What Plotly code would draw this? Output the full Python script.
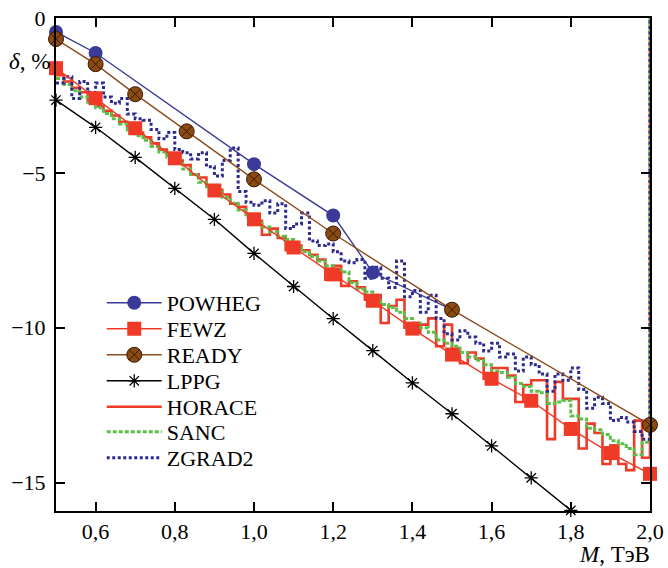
import plotly.graph_objects as go

# ---------------- data ----------------
powheg_m = [0.5, 0.6, 1.0, 1.2, 1.3, 1.5]
powheg_d = [-0.45, -1.13, -4.72, -6.38, -8.22, -9.42]

fewz_m = [0.5, 0.6, 0.7, 0.8, 0.9, 1.0, 1.1, 1.2, 1.3, 1.4, 1.5, 1.6, 1.7, 1.8, 1.9, 2.0]
fewz_d = [-1.62, -2.59, -3.56, -4.53, -5.57, -6.50, -7.41, -8.28, -9.13, -10.03,
          -10.87, -11.65, -12.36, -13.27, -14.05, -14.72]

ready_m = [0.5, 0.6, 0.7, 0.83, 1.0, 1.2, 1.5, 2.0]
ready_d = [-0.68, -1.49, -2.46, -3.66, -5.21, -6.96, -9.42, -13.14]

lppg_m = [0.5, 0.6, 0.7, 0.8, 0.9, 1.0, 1.1, 1.2, 1.3, 1.4, 1.5, 1.6, 1.7, 1.8]
lppg_d = [-2.65, -3.53, -4.50, -5.50, -6.50, -7.60, -8.67, -9.71, -10.74, -11.78,
          -12.78, -13.82, -14.85, -15.90]

# histogram bin edges (0.02 TeV bins from 0.50 to 2.00)
bin_edges = [round(0.50 + 0.02 * i, 2) for i in range(76)]

horace_d = [-1.85, -2.05, -2.25, -2.40, -2.65, -2.85, -3.00, -3.15, -3.35, -3.55,
            -3.70, -3.85, -4.05, -4.25, -4.40, -4.60, -4.75, -5.05, -5.15, -5.40,
            -5.55, -5.70, -6.00, -6.10, -6.35, -6.55, -7.00, -6.80, -7.10, -7.50,
            -7.35, -7.50, -7.65, -7.80, -8.45, -8.00, -8.65, -8.50, -8.70, -9.10,
            -8.95, -9.85, -9.30, -9.10, -10.00, -10.15, -9.90, -9.70, -10.60, -9.90,
            -10.70, -11.15, -10.80, -11.00, -11.65, -11.30, -11.30, -11.55, -12.40, -11.85,
            -11.70, -11.70, -13.60, -11.75, -12.30, -12.30, -13.90, -13.10, -13.40, -14.40,
            -13.80, -14.40, -14.60, -13.00, -14.20]

sanc_d = [-1.95, -2.15, -2.35, -2.55, -2.72, -2.90, -3.08, -3.25, -3.42, -3.62,
          -3.80, -3.95, -4.15, -4.33, -4.50, -4.70, -4.88, -5.05, -5.30, -5.45,
          -5.62, -5.80, -5.98, -6.20, -6.45, -6.62, -6.75, -6.90, -7.05, -7.15,
          -7.40, -7.55, -7.70, -7.85, -8.00, -8.12, -8.20, -8.55, -8.75, -8.85,
          -9.05, -9.25, -9.35, -9.50, -9.70, -9.85, -10.00, -10.15, -10.40, -10.50,
          -10.60, -10.80, -10.95, -11.05, -11.20, -11.40, -11.45, -11.60, -11.80, -11.90,
          -12.05, -12.10, -12.45, -12.40, -12.35, -12.85, -12.95, -13.25, -13.30, -13.45,
          -13.65, -13.75, -13.90, -14.10, -13.70]

zgrad_d = [-2.10, -1.90, -2.60, -2.05, -2.40, -2.10, -2.55, -2.75, -2.60, -3.10,
           -3.25, -3.30, -3.60, -3.90, -3.70, -4.25, -4.35, -4.55, -4.35, -4.80,
           -5.10, -4.60, -4.20, -5.60, -5.95, -6.05, -5.90, -6.30, -6.00, -6.80,
           -6.65, -6.30, -7.20, -7.35, -7.30, -7.55, -7.85, -7.90, -7.80, -8.40,
           -8.05, -8.40, -8.70, -7.85, -9.00, -8.80, -9.50, -8.95, -9.70, -10.20,
           -10.40, -10.10, -10.30, -10.50, -10.75, -10.50, -10.95, -10.85, -11.40, -10.95,
           -11.20, -11.50, -12.05, -11.50, -11.70, -11.30, -12.00, -12.60, -12.25, -12.45,
           -13.00, -12.90, -13.05, -13.35, -13.60]

end_value = 0.0  # histograms close up to zero at the last edge

x_ticks = [0.6, 0.8, 1.0, 1.2, 1.4, 1.6, 1.8, 2.0]
x_ticktext = ["0,6", "0,8", "1,0", "1,2", "1,4", "1,6", "1,8", "2,0"]
y_ticks = [0, -5, -10, -15]
y_ticktext = ["0", "\u22125", "\u221210", "\u221215"]


def hist_xy(vals):
    xs = list(bin_edges) + [bin_edges[-1]]
    ys = list(vals) + [vals[-1], end_value]
    return xs, ys


FONT = "Liberation Serif"
fig = go.Figure()

# histograms
hx, hy = hist_xy(horace_d)
fig.add_trace(go.Scatter(x=hx, y=hy, mode="lines", name="HORACE", line_shape="hv",
                         line=dict(color="#f03a28", width=2.6), legend="legend5"))
sx, sy = hist_xy(sanc_d)
fig.add_trace(go.Scatter(x=sx, y=sy, mode="lines", name="SANC", line_shape="hv",
                         line=dict(color="#5bbf48", width=3, dash="4px,2px"), legend="legend6"))
zx, zy = hist_xy(zgrad_d)
fig.add_trace(go.Scatter(x=zx, y=zy, mode="lines", name="ZGRAD2", line_shape="hv",
                         line=dict(color="#2e2a8c", width=3, dash="3px,2.5px"), legend="legend7"))

# marker series
fig.add_trace(go.Scatter(x=fewz_m, y=fewz_d, mode="lines+markers", name="FEWZ",
                         line=dict(color="#f03a28", width=1.4),
                         marker=dict(symbol="square", size=14, color="#ee3a26"),
                         cliponaxis=False, legend="legend2"))
fig.add_trace(go.Scatter(x=powheg_m, y=powheg_d, mode="lines+markers", name="POWHEG",
                         line=dict(color="#3b3a98", width=1.4),
                         marker=dict(symbol="circle", size=14, color="#3b3a98"),
                         cliponaxis=False, legend="legend"))
fig.add_trace(go.Scatter(x=ready_m, y=ready_d, mode="lines+markers", name="READY",
                         line=dict(color="#8b4c1e", width=1.4),
                         marker=dict(symbol="circle-x", size=15, color="#8a4a12",
                                     line=dict(color="#3a1a05", width=1)),
                         cliponaxis=False, legend="legend3"))
fig.add_trace(go.Scatter(x=lppg_m, y=lppg_d, mode="lines+markers", name="LPPG",
                         line=dict(color="black", width=1.4),
                         marker=dict(symbol="asterisk-open", size=11,
                                     line=dict(color="black", width=1.3)),
                         cliponaxis=False, legend="legend4"))

# one single-item legend per entry, so the row spacing can follow the original
legend_rows_px = [303, 329, 355, 381, 407, 432, 458]
legend_keys = ["legend", "legend2", "legend3", "legend4", "legend5", "legend6", "legend7"]
PLOT_TOP, PLOT_BOTTOM = 18, 511
legend_layout = {}
for key, yc in zip(legend_keys, legend_rows_px):
    legend_layout[key] = dict(
        x=0.077, y=(PLOT_BOTTOM - yc) / (PLOT_BOTTOM - PLOT_TOP),
        xanchor="left", yanchor="middle",
        font=dict(family=FONT, size=22, color="black"),
        bgcolor="rgba(0,0,0,0)", itemwidth=55, tracegroupgap=0,
    )

fig.update_layout(
    width=668, height=568,
    margin=dict(l=56, r=18, t=PLOT_TOP, b=568 - PLOT_BOTTOM, autoexpand=False),
    plot_bgcolor="white", paper_bgcolor="white",
    font=dict(family=FONT, size=22, color="black"),
    showlegend=True,
    hovermode=False,
    xaxis=dict(range=[0.5, 2.0], tickvals=x_ticks, ticktext=x_ticktext,
               ticks="inside", ticklen=9, tickwidth=1.5, tickcolor="black",
               showline=True, linecolor="black", linewidth=2, mirror="ticks",
               showgrid=False, zeroline=False, automargin=False,
               tickfont=dict(family=FONT, size=22)),
    yaxis=dict(range=[-15.92, 0], tickvals=y_ticks, ticktext=y_ticktext,
               ticks="inside", ticklen=9, tickwidth=1.5, tickcolor="black",
               showline=True, linecolor="black", linewidth=2, mirror="ticks",
               showgrid=False, zeroline=False, ticklabelstandoff=4, automargin=False,
               tickfont=dict(family=FONT, size=22)),
    annotations=[
        dict(text="<i>δ</i>, %", xref="paper", yref="paper", x=-0.082, y=0.911,
             xanchor="left", yanchor="middle", showarrow=False,
             font=dict(family=FONT, size=23)),
        dict(text="<i>M</i>, ТэВ", xref="paper", yref="paper", x=1.003, y=-0.1176,
             xanchor="right", yanchor="bottom", showarrow=False,
             font=dict(family=FONT, size=23)),
    ],
    **legend_layout,
)

fig.write_html("out.html", config={"displayModeBar": False},
               post_script="document.body.style.margin='0';document.body.style.overflow='hidden';")
